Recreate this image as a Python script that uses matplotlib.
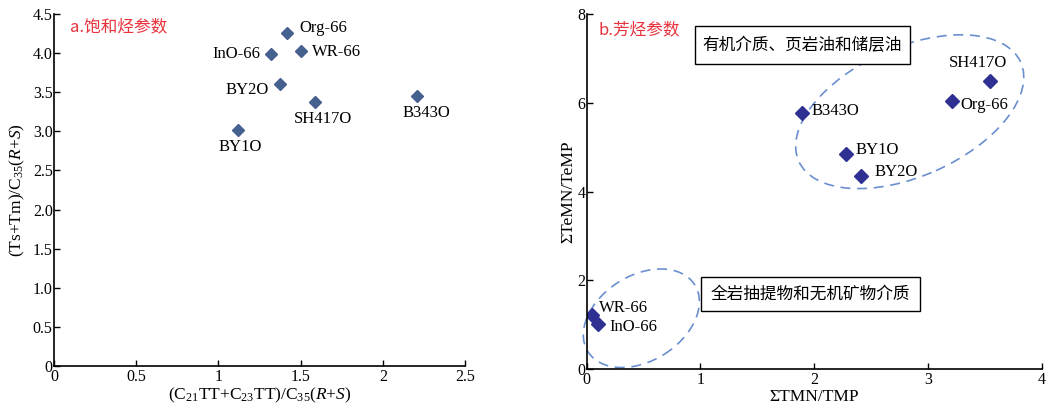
import matplotlib
matplotlib.use("Agg")
import matplotlib.pyplot as plt
import numpy as np
from matplotlib.patches import Ellipse, Rectangle
from matplotlib.transforms import ScaledTranslation

plt.rcParams['font.family'] = ['Liberation Serif', 'Noto Sans CJK SC']
plt.rcParams['mathtext.fontset'] = 'custom'
plt.rcParams['mathtext.rm'] = 'Liberation Serif'
plt.rcParams['mathtext.it'] = 'Liberation Serif:italic'

# a. saturated hydrocarbon parameters
sat_names = ['Org-66', 'InO-66', 'WR-66', 'BY2O', 'SH417O', 'B343O', 'BY1O']
sat_x = [1.42, 1.32, 1.50, 1.375, 1.59, 2.21, 1.12]
sat_y = [4.26, 3.99, 4.03, 3.61, 3.37, 3.45, 3.02]

# b. aromatic hydrocarbon parameters
aro_names = ['SH417O', 'Org-66', 'B343O', 'BY1O', 'BY2O', 'WR-66', 'InO-66']
aro_x = [3.545, 3.21, 1.89, 2.28, 2.41, 0.05, 0.10]
aro_y = [6.49, 6.05, 5.78, 4.85, 4.36, 1.22, 1.02]

# label offsets in pixels (dx, dy, ha)
sat_off = {'Org-66': (12, 5, 'left'), 'InO-66': (-11, 0, 'right'),
           'WR-66': (11, -1, 'left'), 'BY2O': (-11, -6, 'right'),
           'SH417O': (8, -17, 'center'), 'B343O': (9, -17, 'center'),
           'BY1O': (2, -17, 'center')}
aro_off = {'SH417O': (-12, 18, 'center'), 'Org-66': (9, -4, 'left'),
           'B343O': (10, 2, 'left'), 'BY1O': (9, 4, 'left'),
           'BY2O': (14, 4, 'left'), 'WR-66': (7, 7, 'left'),
           'InO-66': (11, -3, 'left')}

fig = plt.figure(figsize=(10.47, 4.08), dpi=100)
ax1 = fig.add_axes([0.0516, 0.1029, 0.3925, 0.8628])
ax2 = fig.add_axes([0.5604, 0.0948, 0.4345, 0.8709])

for ax in (ax1, ax2):
    for s in ('top', 'right'):
        ax.spines[s].set_visible(False)
    for s in ('left', 'bottom'):
        ax.spines[s].set_linewidth(1.2)
    ax.tick_params(direction='in', length=4, width=1, labelsize=11.5)
    ax.tick_params(axis='y', pad=1)
    ax.tick_params(axis='x', pad=2)

# left panel
ax1.plot(sat_x, sat_y, 'D', color='#46608f', ms=6.5, mec='#46608f', ls='none')
for n, x, y in zip(sat_names, sat_x, sat_y):
    dx, dy, ha = sat_off[n]
    ax1.annotate(n, (x, y), xytext=(dx, dy), textcoords='offset pixels',
                 ha=ha, va='center', fontsize=12)
ax1.set_xlim(0, 2.5)
ax1.set_ylim(0, 4.5)
ax1.set_xticks([0, 0.5, 1, 1.5, 2, 2.5])
ax1.set_xticklabels(['0', '0.5', '1', '1.5', '2', '2.5'])
ax1.set_yticks(np.arange(0, 4.6, 0.5))
ax1.set_yticklabels(['0'] + ['%.1f' % v for v in np.arange(0.5, 4.6, 0.5)])
ax1.set_xlabel(r'(C$_{21}$TT+C$_{23}$TT)/C$_{35}$($R$+$S$)', fontsize=12.5, labelpad=1)
ax1.set_ylabel(r'(Ts+Tm)/C$_{35}$($R$+$S$)', fontsize=12.5, labelpad=4)
ax1.text(0.04, 0.965, 'a.饱和烃参数', transform=ax1.transAxes, color='#e8323c',
         fontsize=12, family=['Noto Sans CJK SC'], va='center', ha='left')

# right panel
ax2.plot(aro_x, aro_y, 'D', color='#2e3192', ms=7, mec='#2e3192', ls='none')
for n, x, y in zip(aro_names, aro_x, aro_y):
    dx, dy, ha = aro_off[n]
    ax2.annotate(n, (x, y), xytext=(dx, dy), textcoords='offset pixels',
                 ha=ha, va='center', fontsize=12)
ax2.set_xlim(0, 4)
ax2.set_ylim(0, 8)
ax2.set_xticks([0, 1, 2, 3, 4])
ax2.set_yticks([0, 2, 4, 6, 8])
ax2.set_xlabel('ΣTMN/TMP', fontsize=12.5, labelpad=1)
ax2.set_ylabel('ΣTeMN/TeMP', fontsize=12.5, labelpad=1)
ax2.text(0.025, 0.955, 'b.芳烃参数', transform=ax2.transAxes, color='#e8323c',
         fontsize=12, family=['Noto Sans CJK SC'], va='center', ha='left')

# dashed group ellipses, sized in pixels around a data centre
def group_ellipse(ax, cx, cy, a_px, b_px, angle):
    tr = fig.dpi_scale_trans + ScaledTranslation(cx, cy, ax.transData)
    e = Ellipse((0, 0), 2 * a_px / fig.dpi, 2 * b_px / fig.dpi, angle=angle,
                fill=False, ls=(0, (6, 4)), lw=1.2, ec='#6a8fd0', transform=tr,
                clip_on=False)
    ax.add_patch(e)

group_ellipse(ax2, 2.84, 5.80, 121.5, 64.5, 24)
group_ellipse(ax2, 0.48, 1.15, 63, 42.7, 32)

# group boxes
ax2.add_patch(Rectangle((0.953, 6.87), 1.89, 0.86, fill=True, fc='white',
                        ec='black', lw=1.0, zorder=3))
ax2.text(1.898, 7.30, '有机介质、页岩油和储层油', family=['Noto Sans CJK SC'],
         fontsize=12, ha='center', va='center', zorder=4)
ax2.add_patch(Rectangle((1.002, 1.313), 1.928, 0.773, fill=True, fc='white',
                        ec='black', lw=1.0, zorder=3))
ax2.text(1.966, 1.70, '全岩抽提物和无机矿物介质', family=['Noto Sans CJK SC'],
         fontsize=12, ha='center', va='center', zorder=4)

fig.savefig('out.png', dpi=100)
